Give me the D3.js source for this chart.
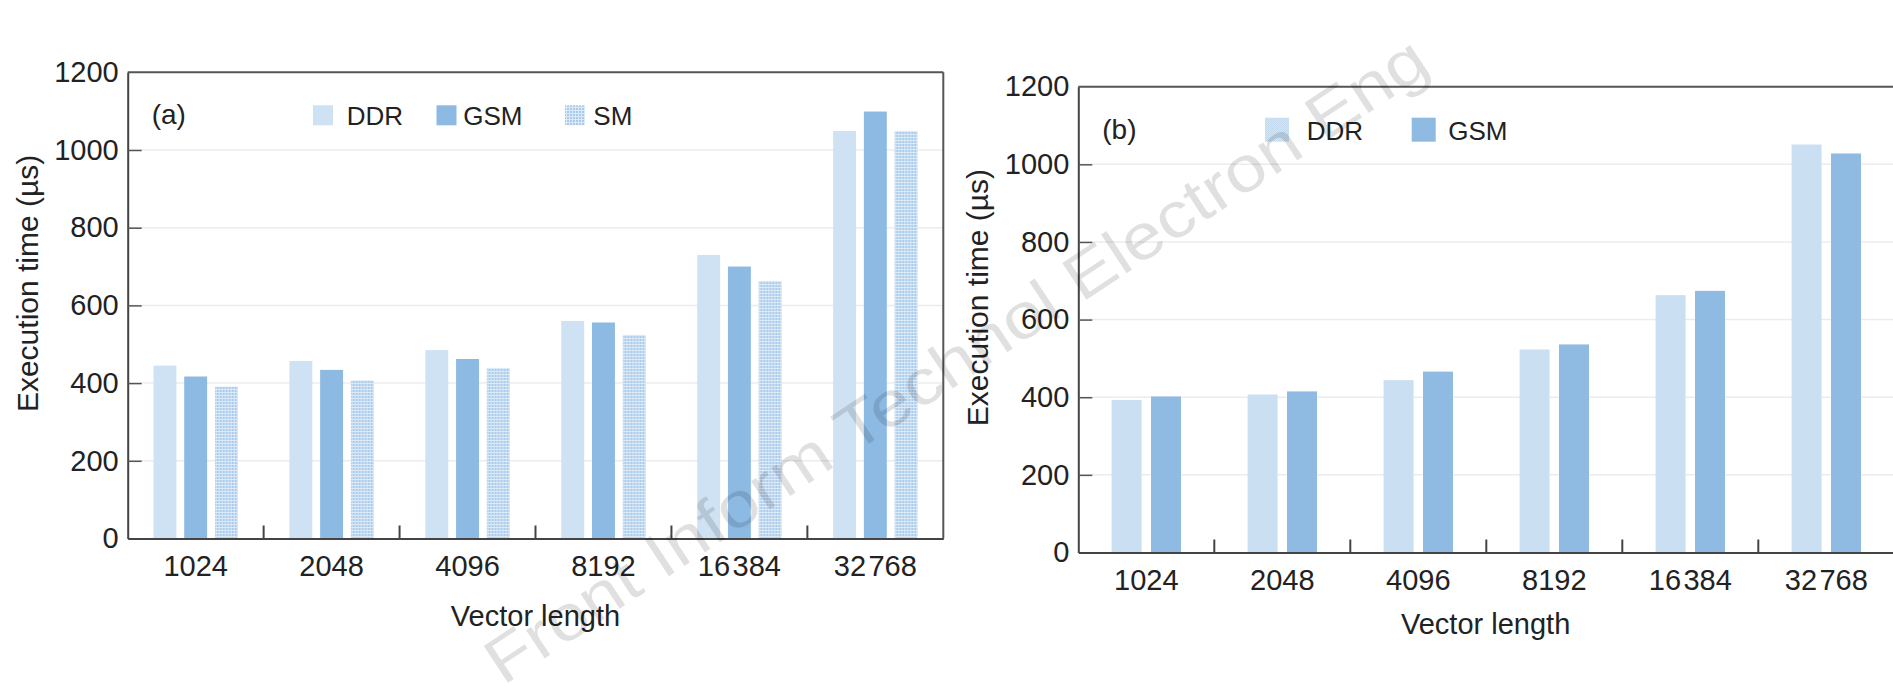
<!DOCTYPE html>
<html>
<head>
<meta charset="utf-8">
<script src="https://cdn.jsdelivr.net/npm/d3@7"></script>
<style>
  html, body { margin: 0; padding: 0; background: #fff; }
  svg { display: block; font-family: "Liberation Sans", Arial, sans-serif; }
</style>
</head>
<body>
<svg id="chart" width="1893" height="690"></svg>
<script>
// ---------------- data ----------------
const categories = ["1024", "2048", "4096", "8192", "16\u200A384", "32\u200A768"];
const yTicks = [0, 200, 400, 600, 800, 1000, 1200];

// panel (a)
const seriesA = ["DDR", "GSM", "SM"];
const ddrA = [445, 457, 485, 560, 730, 1049];
const gsmA = [417, 434, 462, 556, 700, 1099];
const smA  = [391, 407, 439, 524, 663, 1049];

// panel (b)
const seriesB = ["DDR", "GSM"];
const ddrB = [393, 407, 444, 523, 663, 1051];
const gsmB = [402, 415, 466, 536, 674, 1028];

const yLabel = "Execution time (\u00b5s)";
const xLabel = "Vector length";
const watermark = "Front Inform Technol Electron Eng";

// ---------------- drawing ----------------
const svg = d3.select("#chart");
const defs = svg.append("defs");

// SM dotted pattern
const pSM = defs.append("pattern").attr("id", "smDots")
  .attr("width", 3).attr("height", 3).attr("patternUnits", "userSpaceOnUse");
pSM.append("rect").attr("width", 3).attr("height", 3).attr("fill", "#dce9f6");
pSM.append("rect").attr("width", 2).attr("height", 2).attr("fill", "#a9cbeb");

// DDR (b) faint texture
const pDB = defs.append("pattern").attr("id", "ddrB")
  .attr("width", 2).attr("height", 2).attr("patternUnits", "userSpaceOnUse");
pDB.append("rect").attr("width", 2).attr("height", 2).attr("fill", "#d2e3f3");
pDB.append("rect").attr("width", 1).attr("height", 1).attr("fill", "#c4daee");
pDB.append("rect").attr("x", 1).attr("y", 1).attr("width", 1).attr("height", 1).attr("fill", "#c4daee");

const fills = {
  a: { DDR: "#cfe2f3", GSM: "#8dbae3", SM: "url(#smDots)" },
  b: { DDR: "url(#ddrB)", GSM: "#8fbae2" }
};

const FONT = "Liberation Sans, Arial, sans-serif";

function panel(cfg) {
  const g = svg.append("g");
  const x = d3.scaleBand().domain(categories).range([cfg.left, cfg.right]).paddingInner(0).paddingOuter(0);
  const y = d3.scaleLinear().domain([0, 1200]).range([cfg.bottom, cfg.top]);
  const x1 = d3.scaleBand().domain(cfg.series).range([-cfg.groupHalf, cfg.groupHalf]).paddingInner(cfg.barPad);

  // grid lines
  g.append("g").selectAll("line").data(yTicks.filter(t => t > 0 && t < 1200)).join("line")
    .attr("x1", cfg.left).attr("x2", cfg.right)
    .attr("y1", d => y(d)).attr("y2", d => y(d))
    .attr("stroke", "#ececec").attr("stroke-width", 1.5);

  // bars
  const rows = categories.map((c, i) => ({ c, vals: cfg.series.map((s, k) => ({ s, v: cfg.values[k][i] })) }));
  g.append("g").selectAll("g").data(rows).join("g")
    .attr("transform", d => `translate(${x(d.c) + x.bandwidth() / 2},0)`)
    .selectAll("rect").data(d => d.vals).join("rect")
    .attr("x", d => x1(d.s)).attr("width", x1.bandwidth())
    .attr("y", d => y(d.v)).attr("height", d => y(0) - y(d.v))
    .attr("fill", d => cfg.fills[d.s]);

  // frame: top and right
  g.append("line").attr("x1", cfg.left).attr("x2", cfg.right).attr("y1", cfg.top).attr("y2", cfg.top)
    .attr("stroke", "#555").attr("stroke-width", 2);
  g.append("line").attr("x1", cfg.right).attr("x2", cfg.right).attr("y1", cfg.top).attr("y2", cfg.bottom)
    .attr("stroke", "#555").attr("stroke-width", 2);

  // y axis
  const ya = g.append("g").attr("transform", `translate(${cfg.left},0)`)
    .call(d3.axisLeft(y).tickValues(yTicks).tickFormat(d3.format("d")).tickSize(-14).tickPadding(9).tickSizeOuter(0));
  ya.select(".domain").attr("stroke", "#444").attr("stroke-width", 2);
  ya.selectAll(".tick line").attr("stroke", "#555").attr("stroke-width", 1.5);
  ya.selectAll(".tick text").attr("font-size", 29).attr("fill", "#222").attr("font-family", FONT);
  ya.selectAll(".tick").filter(d => d === 0 || d === 1200).select("line").remove();

  // x axis (labels at band centres, ticks at band boundaries pointing up)
  const xa = g.append("g").attr("transform", `translate(0,${cfg.bottom})`)
    .call(d3.axisBottom(x).tickSize(0).tickPadding(17).tickSizeOuter(0));
  xa.select(".domain").attr("stroke", "#444").attr("stroke-width", 2);
  xa.selectAll(".tick text").attr("font-size", 29).attr("fill", "#222").attr("font-family", FONT);
  g.append("g").selectAll("line").data(categories.slice(1)).join("line")
    .attr("x1", d => x(d)).attr("x2", d => x(d))
    .attr("y1", cfg.bottom).attr("y2", cfg.bottom - 13)
    .attr("stroke", "#444").attr("stroke-width", 2);

  // axis titles
  g.append("text").attr("x", (cfg.left + Math.min(cfg.right, 1893)) / 2).attr("y", cfg.bottom + cfg.xTitleDy)
    .attr("text-anchor", "middle").attr("font-size", 29).attr("fill", "#222").text(xLabel);
  g.append("text").attr("transform", `translate(${cfg.left - 90},${(cfg.top + cfg.bottom) / 2 - 22}) rotate(-90)`)
    .attr("text-anchor", "middle").attr("font-size", 30).attr("fill", "#222").text(yLabel);

  // panel letter
  g.append("text").attr("x", cfg.left + 24).attr("y", cfg.top + 52)
    .attr("font-size", 28).attr("fill", "#222").text(cfg.letter);

  // legend
  const lg = g.append("g").selectAll("g").data(cfg.series).join("g");
  lg.append("rect").attr("x", (d, i) => cfg.sqX[i]).attr("y", cfg.top + 43 - cfg.sq / 2)
    .attr("width", cfg.sq).attr("height", cfg.sq).attr("fill", d => cfg.fills[d]);
  lg.append("text").attr("x", (d, i) => cfg.txtX[i]).attr("y", cfg.top + 53)
    .attr("font-size", 26).attr("fill", "#222").text(d => d);
}

panel({
  left: 127.7, right: 943.3, top: 72.3, bottom: 538.5,
  series: seriesA, values: [ddrA, gsmA, smA], fills: fills.a,
  groupHalf: 42.2, barPad: 0.254,
  letter: "(a)", sqX: [313, 436.5, 565], txtX: [346.7, 463.3, 593.3], sq: 20,
  xTitleDy: 87
});

panel({
  left: 1078.3, right: 1894.3, top: 86.7, bottom: 552.5,
  series: seriesB, values: [ddrB, gsmB], fills: fills.b,
  groupHalf: 34.7, barPad: 0.24,
  letter: "(b)", sqX: [1265, 1411.7], txtX: [1306.7, 1448.3], sq: 24,
  xTitleDy: 81
});

// watermark
svg.append("text")
  .attr("transform", "translate(503,686) rotate(-33.5)")
  .attr("font-size", 64).attr("fill", "#000").attr("fill-opacity", 0.12)
  .attr("textLength", 1115).attr("lengthAdjust", "spacingAndGlyphs")
  .text(watermark);
</script>
</body>
</html>
